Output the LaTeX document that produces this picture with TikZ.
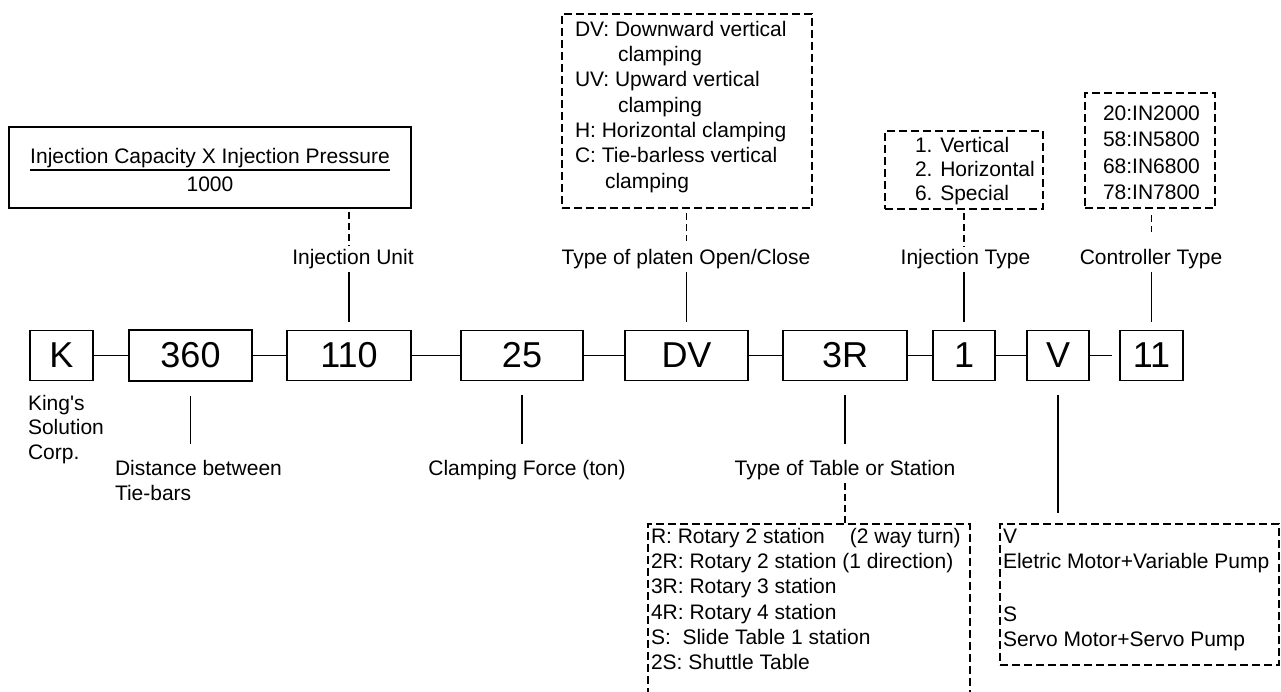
\documentclass[tikz,border=0pt]{standalone}
\usepackage{fontspec}
\setmainfont{Liberation Sans}[Ligatures=TeXOff]
\begin{document}
\begin{tikzpicture}[x=1pt,y=-1pt,
  every node/.style={inner sep=0pt, outer sep=0pt},
  mainbox/.style={draw, line width=1.3pt, minimum height=50pt, font=\fontsize{36}{40}\selectfont},
  solidbox/.style={draw, line width=1.3pt},
  descbox/.style={draw, line width=1.2pt, dash pattern=on 8pt off 4pt},
  lbl/.style={font=\fontsize{21}{25}\selectfont, text height=15pt, text depth=4.5pt},
  conn/.style={line width=1.3pt},
  dconn/.style={line width=1.3pt, dash pattern=on 7pt off 4pt},
]
\useasboundingbox (0,0) rectangle (1281,691);
\clip (0,0) rectangle (1281,691);

% main row
\node[mainbox, minimum width=63pt]  (bK)   at (61.5,355.5)  {K};
\node[mainbox, minimum width=123pt, minimum height=51pt] (b360) at (190.5,355.5) {360};
\node[mainbox, minimum width=124pt] (b110) at (349,355.5)   {110};
\node[mainbox, minimum width=122pt] (b25)  at (522,355.5)   {25};
\node[mainbox, minimum width=123pt] (bDV)  at (686.5,355.5) {DV};
\node[mainbox, minimum width=124pt] (b3R)  at (845,355.5)   {3R};
\node[mainbox, minimum width=62pt]  (b1)   at (964,355.5)   {1};
\node[mainbox, minimum width=62pt]  (bV)   at (1058,355.5)  {V};
\node[mainbox, minimum width=63pt]  (b11)  at (1151.5,355.5) {11};

\draw[conn] (bK) -- (b360);
\draw[conn] (b360) -- (b110);
\draw[conn] (b110) -- (b25);
\draw[conn] (b25) -- (bDV);
\draw[conn] (bDV) -- (b3R);
\draw[conn] (b3R) -- (b1);
\draw[conn] (b1) -- (bV);
\draw[conn, shorten >=8pt] (bV) -- (b11);

% formula box
\node[solidbox, minimum width=402pt, minimum height=81pt] (fbox) at (210,167.5) {};
\node[lbl, anchor=base] (fnum) at (210,163.5) {Injection Capacity X Injection Pressure};
\draw[line width=1.2pt] (30,170) -- (390,170);
\node[lbl, anchor=base] (fden) at (210,191) {1000};

% DV description box
\node[descbox, minimum width=250pt, minimum height=194pt] (dvbox) at (687,111) {};
\foreach \x/\y/\t [count=\i] in {575/36/{DV: Downward vertical},618/61.3/{clamping},575/86.7/{UV: Upward vertical},618/112/{clamping},575/137.3/{H: Horizontal clamping},575/162.7/{C: Tie-barless vertical},605/188/{clamping}}
  \node[lbl, anchor=base west] (dv\i) at (\x,\y) {\t};

% injection type box
\node[descbox, minimum width=158pt, minimum height=78pt] (itbox) at (964,170) {};
\foreach \y/\t [count=\i] in {152.7/{1. Vertical},176.7/{2. Horizontal},200.7/{6. Special}}
  \node[lbl, anchor=base west] (it\i) at (915,\y) {\t};

% controller box
\node[descbox, minimum width=130pt, minimum height=115pt] (ctbox) at (1150,150.5) {};
\foreach \y/\t [count=\i] in {120.7/{20:IN2000},146.9/{58:IN5800},173.1/{68:IN6800},199.3/{78:IN7800}}
  \node[lbl, anchor=base west] (ct\i) at (1103,\y) {\t};

% upper labels
\node[lbl, anchor=base] (lu)  at (353,264.5)  {Injection Unit};
\node[lbl, anchor=base] (lp)  at (686,264.5)  {Type of platen Open/Close};
\node[lbl, anchor=base] (lit) at (965.5,264.5) {Injection Type};
\node[lbl, anchor=base] (lct) at (1151,264.5) {Controller Type};

\draw[dconn, shorten <=4pt, shorten >=3.5pt] (fbox.south -| b110) -- (lu.north -| b110);
\draw[conn, shorten <=3pt, shorten >=8.5pt] (lu.south -| b110) -- (b110.north);
\draw[dconn, shorten <=5pt, shorten >=8.5pt] (dvbox.south -| bDV) -- (lp.north -| bDV);
\draw[conn, shorten <=3pt, shorten >=8.5pt] (lp.south -| bDV) -- (bDV.north);
\draw[dconn, shorten <=4pt, shorten >=2.5pt] (itbox.south -| b1) -- (lit.north -| b1);
\draw[conn, shorten <=3pt, shorten >=8.5pt] (lit.south -| b1) -- (b1.north);
\draw[dconn, shorten <=7pt, shorten >=17.5pt] (ctbox.south -| b11) -- (lct.north -| b11);
\draw[conn, shorten <=3pt, shorten >=8.5pt] (lct.south -| b11) -- (b11.north);

% lower labels
\foreach \y/\t [count=\i] in {410.7/{King's},434.9/{Solution},459.1/{Corp.}}
  \node[lbl, anchor=base west] (kc\i) at (28,\y) {\t};
\node[lbl, anchor=base west] (ld1) at (115,475.7) {Distance between};
\node[lbl, anchor=base west] (ld2) at (115,500.7) {Tie-bars};
\node[lbl, anchor=base] (lcf) at (527,475.7) {Clamping Force (ton)};
\node[lbl, anchor=base] (lts) at (845,475.7) {Type of Table or Station};

\draw[conn, shorten <=14.5pt, shorten >=16.7pt] (b360.south) -- (b360.south |- ld1.north);
\draw[conn, shorten <=14.5pt, shorten >=16.7pt] (b25.south) -- (b25.south |- lcf.north);
\draw[conn, shorten <=14.5pt, shorten >=16.7pt] (b3R.south) -- (lts.north);

% table box
\node[descbox, minimum width=322pt, minimum height=176pt] (tbox) at (809,612) {};
\foreach \y/\t [count=\i] in {543.5/{R: Rotary 2 station\hspace*{25pt}(2 way turn)},568.7/{2R: Rotary 2 station (1 direction)},593.9/{3R: Rotary 3 station},619.1/{4R: Rotary 4 station},644.3/{S:\ \ Slide Table 1 station},669.5/{2S: Shuttle Table}}
  \node[lbl, anchor=base west] (tt\i) at (651,\y) {\t};
\draw[dconn, shorten <=3pt, shorten >=1pt] (lts.south) -- (b3R.south |- tbox.north);

% drive box
\node[descbox, minimum width=279pt, minimum height=141pt] (rbox) at (1139.5,594.5) {};
\foreach \y/\t [count=\i] in {543.5/{V},568.7/{Eletric Motor+Variable Pump},621/{S},646/{Servo Motor+Servo Pump}}
  \node[lbl, anchor=base west] (rt\i) at (1003,\y) {\t};
\draw[conn, shorten <=14.5pt, shorten >=11pt] (bV.south) -- (bV.south |- rbox.north);
\end{tikzpicture}
\end{document}
